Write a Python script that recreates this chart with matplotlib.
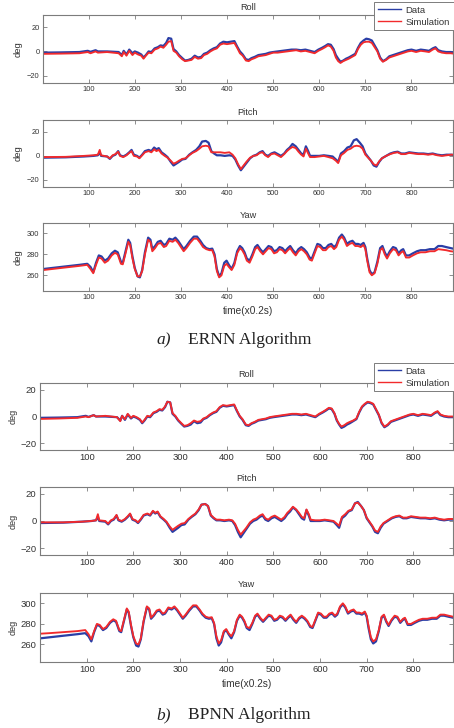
import matplotlib
matplotlib.use("Agg")
import matplotlib.pyplot as plt
from matplotlib.lines import Line2D

plt.rcParams['font.family'] = ['Liberation Sans', 'DejaVu Sans']

# ---------------- data ----------------
xticks = [100, 200, 300, 400, 500, 600, 700, 800]
angle_ticks = [-20, 0, 20]
yaw_ticks = [260, 280, 300]

roll_t = [1, 40, 80, 98, 104, 115, 120, 140, 165, 172,
          176, 182, 188, 195, 200, 207, 214, 219, 224, 230,
          236, 243, 250, 256, 262, 268, 273, 279, 284, 290,
          296, 303, 309, 316, 323, 330, 337, 344, 350, 357,
          364, 371, 378, 385, 392, 400, 408, 416, 422, 428,
          434, 441, 447, 453, 460, 468, 476, 484, 492, 500,
          510, 520, 530, 540, 550, 560, 570, 580, 590, 598,
          606, 613, 619, 625, 631, 636, 641, 646, 652, 658,
          664, 671, 678, 684, 690, 696, 702, 708, 714, 720,
          726, 732, 738, 745, 752, 760, 768, 776, 784, 792,
          800, 810, 820, 830, 838, 846, 852, 858, 866, 875,
          885, 895]
roll_data = [-1, -0.8, -0.5, 0.5, -0.3, 1, 0, 0, -0.5, -3,
             0.5, -2.5, 1.5, -1.5, 0, -1, -2.5, -5, -3, 0,
             -0.5, 2.5, 3.5, 5, 4.5, 7, 11, 10.5, 2, 0,
             -3, -5.5, -7.5, -7, -6, -3.5, -5, -4.5, -2, -1,
             1, 2.5, 3.5, 6.5, 8, 7.5, 8, 8.5, 4, 0,
             -2.5, -6.5, -7, -5.5, -4.5, -3, -2.5, -2, -1, -0.5,
             0, 0.5, 1, 1.5, 1.5, 1, 1.5, 0.5, -0.5, 1.5,
             3, 4.5, 6, 5.5, 2, -3, -6, -8.5, -7.5, -6,
             -5, -3.5, -2, 3, 7, 9, 10.5, 10, 9, 5,
             1, -5, -8, -6.5, -4, -3, -2, -1, 0, 1,
             1.5, 0.5, 1.5, 1, 0.5, 2.5, 3.5, 1, 0, -0.5,
             -0.5, -1]
roll_sim_ernn = [-2, -1.8, -1.5, -0.5, -1.5, 0, -1, -0.5, -1.5, -4,
                 -0.5, -3.5, 0.5, -3, -1, -2.5, -3.5, -6, -3.5, -1,
                 -1.5, 1.5, 2.5, 4, 3, 5.5, 8, 8.5, 0.5, -1,
                 -4, -6.5, -8, -7.5, -7, -4.5, -6, -5.5, -3, -2,
                 0, 1.5, 2.5, 5.5, 6.5, 6, 6.5, 7, 3, -1.5,
                 -3.5, -7.5, -8, -6.5, -5.5, -4, -3.5, -3, -2, -1,
                 -1, -0.5, 0, 0.5, 1, 0, 0.5, -0.5, -1.5, 0.5,
                 2, 3.5, 5, 4, 0.5, -5, -8, -9.5, -8, -7,
                 -6, -4.5, -3, 2, 5.5, 7.5, 8, 8, 7, 3.5,
                 0, -6, -8.5, -7, -5, -4, -3, -2, -1, 0,
                 0.5, -0.5, 0.5, 0, -0.5, 1.5, 2.5, 0, -1, -1.5,
                 -1.5, -2]
roll_sim_bpnn = [-1.8, -1.5, -1, 0, -0.5, 1, 0, 0.5, -0.5, -3.5,
                 0.5, -2, 2, -1, 0.5, -0.5, -2, -4.5, -2.5, 0.5,
                 0, 3, 4, 5.5, 5, 7.5, 11, 10.5, 2.5, 0.5,
                 -2.5, -5, -7, -6.5, -5, -3, -4, -3.5, -1.5, -0.5,
                 1.5, 3, 4, 7, 8.5, 8, 8.5, 9, 4.5, 0.5,
                 -2, -6, -6.5, -5, -4, -2.5, -2, -1.5, -0.5, 0,
                 0.5, 1, 1.5, 2, 2, 1.5, 2, 1, 0, 2,
                 3.5, 5, 6.5, 6, 2.5, -2.5, -5.5, -7.5, -6.5, -5,
                 -4, -3, -1.5, 3.5, 7.5, 9.5, 11, 10.5, 9.5, 5.5,
                 1.5, -4.5, -7.5, -6, -3.5, -2.5, -1.5, -0.5, 0.5, 1.5,
                 2, 1, 2, 1.5, 1, 3, 4, 1.5, 0.5, 0,
                 0, -0.5]

pitch_t = [1, 50, 90, 110, 120, 124, 127, 140, 146, 152,
           158, 164, 168, 175, 182, 188, 193, 198, 205, 210,
           216, 222, 230, 236, 242, 247, 252, 258, 265, 271,
           278, 284, 290, 296, 303, 310, 318, 325, 333, 340,
           346, 354, 360, 366, 372, 378, 386, 395, 405, 412,
           418, 424, 430, 436, 442, 450, 457, 464, 471, 477,
           483, 489, 496, 503, 510, 517, 524, 530, 536, 542,
           549, 555, 561, 566, 571, 576, 580, 590, 600, 610,
           620, 629, 636, 641, 647, 654, 661, 668, 675, 681,
           688, 694, 700, 706, 712, 718, 724, 730, 736, 745,
           754, 762, 770, 778, 786, 795, 805, 815, 826, 836,
           846, 856, 866, 876, 886, 895]
pitch_data = [-1.5, -1.2, -0.5, 0, 0.5, 3, 0, -0.5, -2.5, 0,
              1, 4, 0.5, -0.5, 1, 3, 5, 1, 0, -1.5,
              1, 4, 5, 4, 7, 5.5, 6.5, 3, 1, -1,
              -5, -8, -6.5, -5, -3, -2.5, 1, 3, 5, 8,
              12, 12.5, 11, 4, 2, 0.5, 0.5, 0, 0.5, 0,
              -3, -8, -12, -9, -6, -2, 0, 1, 3, 4,
              1, 0, 2, 3, 1.5, 0, 2, 5, 7, 10,
              8, 5, 2, 1, 8, 4, 0, 0, 0, 0.5,
              0, -0.5, -3, -5, 2, 4, 7, 8, 13, 14,
              11, 8, 2, -1, -4, -8, -9, -5, -2, 0,
              2, 3, 3.5, 2, 2, 3, 2.5, 2, 2, 1.5,
              2, 1, 0.5, 1, 1, 0.5]
pitch_sim_ernn = [-1, -0.8, 0, 0.5, 1, 5, 0.5, -0.5, -2, 0.5,
                  1.5, 3.5, 0, -1, 0.5, 2.5, 4, 0, -0.5, -2,
                  0.5, 3, 4, 3, 5.5, 4, 5, 2, 0, -1.5,
                  -4, -6.5, -5.5, -4, -2.5, -2, 0.5, 2.5, 4, 6,
                  8, 8.5, 8, 3, 3, 3, 3, 2.5, 3, 1,
                  -2, -7, -11, -8, -5, -1.5, 0, 0.5, 2.5, 3,
                  0.5, -1, 1.5, 2, 0.5, -1, 1.5, 4, 6, 7.5,
                  6.5, 3.5, 1, -0.5, 6, 2, -1, -1, -0.5, 0,
                  -1, -2, -4, -6, 0.5, 2.5, 5, 6, 8, 8.5,
                  8, 6, 1, -1.5, -4, -7, -8, -4.5, -2, 0,
                  1.5, 2.5, 3, 1.5, 1.5, 2.5, 2, 1.5, 1.5, 1,
                  1.5, 0.5, 0, 0.5, 1, 1]
pitch_sim_bpnn = [-1, -1, -0.5, 0, 0.5, 5, 0.5, 0, -2, 0.5,
                  1.5, 4.5, 1, 0, 1.5, 3.5, 5.5, 1.5, 0.5, -1,
                  1.5, 4.5, 5.5, 4.5, 7.5, 6, 7, 3.5, 1.5, -0.5,
                  -4, -6.5, -5, -3.5, -2, -1.5, 1.5, 3.5, 5.5, 8.5,
                  12, 12.5, 11, 4.5, 2.5, 1, 1, 0.5, 1, 0.5,
                  -2, -6.5, -10, -7.5, -5, -1, 1, 2, 4, 5,
                  2, 1, 3, 4, 2.5, 1, 3, 6, 8, 10.5,
                  8.5, 6, 3, 2, 8.5, 5, 1, 0.5, 0.5, 1,
                  0.5, 0, -2, -3.5, 3, 5, 7.5, 8.5, 13, 13.5,
                  11, 8, 2.5, -0.5, -3.5, -7, -8, -4, -1.5, 0.5,
                  2.5, 3.5, 4, 2.5, 2.5, 3.5, 3, 2.5, 2.5, 2,
                  2.5, 1.5, 1, 1.5, 1.5, 1]

yaw_t = [1, 20, 50, 80, 97, 104, 110, 116, 122, 128,
         135, 142, 150, 157, 163, 170, 174, 180, 186, 190,
         195, 200, 206, 211, 216, 222, 229, 234, 238, 244,
         250, 256, 263, 268, 275, 282, 288, 294, 300, 306,
         312, 320, 328, 335, 342, 348, 355, 362, 368, 373,
         378, 383, 388, 394, 399, 404, 410, 416, 422, 428,
         433, 438, 443, 449, 455, 461, 466, 472, 478, 484,
         490, 496, 502, 508, 514, 520, 526, 532, 537, 543,
         549, 555, 561, 567, 573, 579, 584, 590, 596, 602,
         608, 614, 620, 626, 632, 637, 643, 649, 654, 660,
         666, 672, 678, 684, 690, 696, 700, 704, 709, 714,
         720, 726, 732, 737, 742, 747, 753, 760, 766, 772,
         778, 782, 788, 795, 803, 812, 820, 830, 840, 850,
         858, 866, 875, 885, 895]
yaw_data = [266, 267, 268.5, 270, 271, 268, 263, 272, 279, 278,
            274, 276, 281, 283.5, 282, 273, 272, 283, 294, 291,
            278, 267, 259, 258, 265, 282, 296, 294, 285, 288,
            292, 293, 289, 290, 295, 294, 296, 293, 289, 285,
            288, 293, 297, 297, 293, 289, 286, 285, 285.5, 280,
            266, 259, 262, 272, 274, 270, 266, 272, 283, 288,
            286, 282, 276, 274, 280, 287, 289, 285, 282, 285,
            288, 287, 283, 284, 287, 286, 283, 286, 288, 284,
            281, 285, 287, 285, 282, 277, 276, 283, 290, 289,
            286, 286, 289, 290, 287, 289, 296, 299, 296, 290,
            292, 293, 290, 290, 289, 291, 287, 276, 265, 261,
            263, 273, 286, 288, 282, 278, 283, 287, 286, 281,
            284, 285, 279, 279, 281, 283, 284, 284, 285, 285,
            288, 288, 287, 286, 285]
yaw_sim_ernn = [265, 266, 267.5, 269, 270, 266, 262, 270, 277, 276,
                272, 274, 279, 281.5, 280, 271, 270.5, 281, 292, 289,
                276, 266, 259, 259, 264, 280, 294, 292, 283, 286,
                290, 291, 287, 288, 293, 292, 294, 291, 287, 283,
                286, 291, 295, 295, 291, 287, 285, 284, 284, 278,
                264, 258, 260, 269, 271, 268, 265, 270, 281, 286,
                284, 280, 274, 272, 278, 285, 287, 283, 280, 283,
                286, 285, 281, 282, 285, 284, 281, 284, 286, 282,
                279, 283, 285, 283, 280, 275, 274, 281, 288, 287,
                284, 284, 287, 288, 285, 287, 294, 297, 294, 288,
                290, 291, 288, 288, 287, 289, 285, 274, 263, 260,
                262, 271, 284, 286, 280, 276, 281, 285, 284, 279,
                282, 283, 277, 277, 279, 281, 282, 282, 283, 283,
                285, 284.5, 284, 283, 282.5]
yaw_sim_bpnn = [270.5, 271, 272, 273, 274, 270, 265, 273, 280, 279,
                275, 277, 282, 284.5, 283, 274, 273, 284, 295, 292,
                279, 268, 261, 260, 266, 283, 297, 295, 286, 289,
                293, 294, 290, 291, 296, 295, 297, 294, 290, 286,
                289, 294, 298, 298, 294, 290, 287, 286, 286.5, 281,
                268, 261, 264, 273, 275, 271, 268, 273, 284, 289,
                287, 283, 277, 276, 281, 288, 290, 286, 283, 286,
                289, 288, 284, 285, 288, 287, 284, 287, 289, 285,
                282, 286, 288, 286, 283, 278, 277, 284, 291, 290,
                287, 287, 290, 291, 288, 290, 297, 300, 297, 291,
                293, 294, 291, 291, 290, 292, 288, 278, 267, 263,
                265, 274, 287, 289, 283, 279, 284, 288, 287, 282,
                285, 286, 280, 280, 282, 284, 285, 285, 286, 286,
                289, 289, 288, 287, 286]

# ---------------- style ----------------
BLUE = '#2a3ea6'
RED = '#f22a2c'
SPINE = '#7c7c7c'
TXT = '#333333'
W, H = 454, 728

fig = plt.figure(figsize=(W / 100, H / 100), dpi=100)


def ax_at(left, right, top, bottom):
    return fig.add_axes([left / W, 1 - bottom / H, (right - left) / W, (bottom - top) / H])


def style(ax, p, xlim, ylim, yt, title):
    ax.set_xlim(*xlim)
    ax.set_ylim(*ylim)
    ax.set_xticks(xticks)
    ax.set_yticks(yt)
    ax.tick_params(direction='in', top=True, right=True, length=3, width=0.6,
                   color=SPINE, labelsize=p['tfs'], labelcolor=TXT, pad=2.5)
    for s in ax.spines.values():
        s.set_color(SPINE)
        s.set_linewidth(0.8)
    ax.set_title(title, fontsize=p['hfs'], color=TXT, pad=p['tpad'])
    ax.set_ylabel('deg', fontsize=p['lfs'], color=TXT, labelpad=p['ylpad'])


panels = [
    dict(left=43, xlim=(1, 890), tfs=5.4, hfs=6.6, lfs=6.8, xfs=7.3, tpad=3.5, ylpad=3,
         xlpad=3,
         rows=[(15, 83, (-26, 30)), (120, 187, (-26, 30)), (223, 291, (245, 310))],
         sims=(roll_sim_ernn, pitch_sim_ernn, yaw_sim_ernn)),
    dict(left=40, xlim=(0, 885), tfs=6.8, hfs=6.6, lfs=6.5, xfs=7.3, tpad=4.5, ylpad=2,
         xlpad=3,
         rows=[(383, 450, (-25, 25)), (487, 555, (-25, 25)), (593, 662, (243, 310))],
         sims=(roll_sim_bpnn, pitch_sim_bpnn, yaw_sim_bpnn)),
]
series = [(roll_t, roll_data, 'Roll', angle_ticks),
          (pitch_t, pitch_data, 'Pitch', angle_ticks),
          (yaw_t, yaw_data, 'Yaw', yaw_ticks)]

for p in panels:
    for k, ((top, bot, ylim), (t, d, name, yt), sim) in enumerate(zip(p['rows'], series, p['sims'])):
        ax = ax_at(p['left'], 453, top, bot)
        ax.plot(t, d, color=BLUE, lw=1.6, solid_joinstyle='round')
        ax.plot(t, sim, color=RED, lw=1.35, solid_joinstyle='round')
        style(ax, p, p['xlim'], ylim, yt, name)
        if k == 2:
            ax.set_xlabel('time(x0.2s)', fontsize=p['xfs'], color=TXT, labelpad=p['xlpad'])

# legends, pushed against the right edge of the figure
handles = [Line2D([], [], color=BLUE, lw=1.0), Line2D([], [], color=RED, lw=1.0)]
for ly in [2, 363]:
    leg = fig.legend(handles, ['Data', 'Simulation'], loc='upper right',
                     bbox_to_anchor=(453.5 / W, 1 - ly / H), fontsize=6.8,
                     frameon=True, fancybox=False, framealpha=1,
                     edgecolor=SPINE, handlelength=2.4, handletextpad=0.5,
                     borderpad=0.4, labelspacing=0.3, borderaxespad=0)
    leg.get_frame().set_linewidth(0.7)
    for tx in leg.get_texts():
        tx.set_color(TXT)

# captions
serif = ['Liberation Serif', 'DejaVu Serif']
for (lab, name, y) in [('a)', 'ERNN Algorithm', 340), ('b)', 'BPNN Algorithm', 715)]:
    fig.text(156 / W, 1 - y / H, lab, family=serif, style='italic', fontsize=12.5,
             va='center', ha='left', color='#222222')
    fig.text(188 / W, 1 - y / H, name, family=serif, fontsize=12.5,
             va='center', ha='left', color='#222222')

fig.savefig('out.png', dpi=100)
